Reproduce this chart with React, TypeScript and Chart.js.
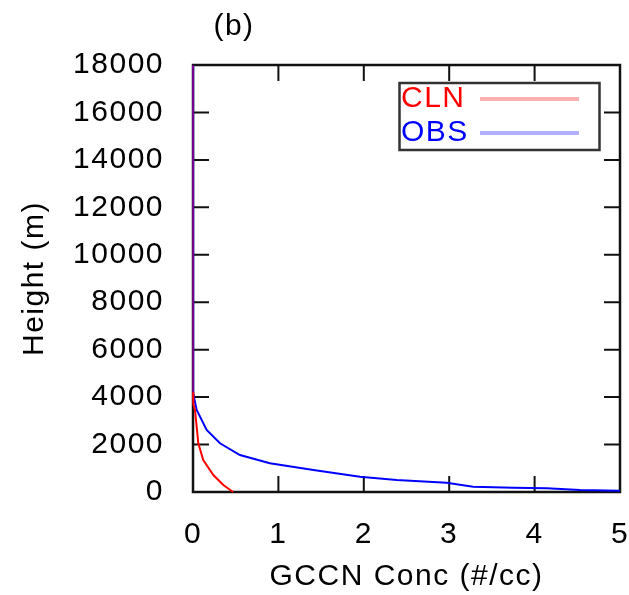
import React, { useEffect, useRef } from "react";
import { Chart, registerables } from "chart.js";

Chart.register(...registerables);

const seriesLabels = ["CLN", "OBS"];
const clnConc = [0, 0, 0.004, 0.023, 0.043, 0.062, 0.12, 0.238, 0.355, 0.47];
const clnHeight = [18000, 4200, 3700, 3457, 2755, 2050, 1350, 717, 295, 0];
const obsConc = [0, 0, 0.004, 0.043, 0.16, 0.316, 0.55, 0.9, 1.41, 1.955, 2.385, 2.97, 3.28, 3.75, 4.14, 4.53, 5.0];
const obsHeight = [18000, 4720, 4160, 3457, 2614, 2053, 1560, 1210, 927, 645, 506, 392, 223, 181, 156, 84, 55];
const xTicks = [0, 1, 2, 3, 4, 5];
const yTicks = [0, 2000, 4000, 6000, 8000, 10000, 12000, 14000, 16000, 18000];
const panelLabel = "(b)";
const xTitle = "GCCN Conc (#/cc)";
const yTitle = "Height (m)";

const FONT = "'Liberation Sans', Arial, Helvetica, sans-serif";
const seriesColors = ["#ff0000", "#0000ff"];
const legendLineColors = ["#ffb0b0", "#b0b0ff"];

const spacingPlugin = {
  id: "spacing",
  beforeDraw(chart: any) {
    (chart.ctx as any).letterSpacing = "1.5px";
  },
  afterDraw(chart: any) {
    (chart.ctx as any).letterSpacing = "0px";
  },
};

const framePlugin = {
  id: "frame",
  beforeDatasetsDraw(chart: any) {
    const { ctx, chartArea } = chart;
    const { left, right, top, bottom } = chartArea;
    const xs = chart.scales.x;
    const ys = chart.scales.y;
    const tl = 16;
    ctx.save();
    ctx.strokeStyle = "#111";
    ctx.lineWidth = 2;
    ctx.beginPath();
    for (const v of xTicks) {
      const px = xs.getPixelForValue(v);
      ctx.moveTo(px, bottom);
      ctx.lineTo(px, bottom - tl);
      ctx.moveTo(px, top);
      ctx.lineTo(px, top + tl);
    }
    for (const v of yTicks) {
      const py = ys.getPixelForValue(v);
      ctx.moveTo(left, py);
      ctx.lineTo(left + tl, py);
      ctx.moveTo(right, py);
      ctx.lineTo(right - tl, py);
    }
    ctx.stroke();
    ctx.lineWidth = 2.5;
    ctx.strokeRect(left, top, right - left, bottom - top);
    ctx.restore();
  },
  afterDraw(chart: any) {
    const { ctx } = chart;
    ctx.save();
    (ctx as any).letterSpacing = "1.5px";
    ctx.font = `30px ${FONT}`;
    ctx.fillStyle = "#000";
    ctx.textAlign = "center";
    ctx.textBaseline = "middle";
    ctx.fillText(panelLabel, 234, 27);

    // legend
    ctx.lineWidth = 2.5;
    ctx.strokeStyle = "#333";
    ctx.strokeRect(399.5, 83, 200, 67);
    const rows = [98, 132];
    chart.data.datasets.forEach((ds: any, i: number) => {
      ctx.fillStyle = ds.borderColor;
      ctx.textAlign = "left";
      ctx.fillText(ds.label, 401, rows[i] + 1);
      ctx.strokeStyle = legendLineColors[i];
      ctx.lineWidth = 4;
      ctx.beginPath();
      ctx.moveTo(480, rows[i] + 1);
      ctx.lineTo(579, rows[i] + 1);
      ctx.stroke();
    });
    ctx.restore();
  },
};

export default function App() {
  const ref = useRef<HTMLCanvasElement | null>(null);
  useEffect(() => {
    if (!ref.current) return;
    const chart = new Chart(ref.current, {
      type: "scatter",
      data: {
        datasets: [
          {
            label: seriesLabels[0],
            data: clnConc.map((x, i) => ({ x, y: clnHeight[i] })),
            showLine: true,
            borderColor: seriesColors[0],
            backgroundColor: seriesColors[0],
            borderWidth: 2,
            pointRadius: 0,
            clip: false,
            segment: {
              borderColor: (c: any) =>
                c.p0.parsed.x === 0 && c.p1.parsed.x === 0 ? "rgba(255,0,0,0.45)" : undefined,
            },
          },
          {
            label: seriesLabels[1],
            data: obsConc.map((x, i) => ({ x, y: obsHeight[i] })),
            showLine: true,
            borderColor: seriesColors[1],
            backgroundColor: seriesColors[1],
            borderWidth: 2,
            pointRadius: 0,
            clip: false,
          },
        ],
      } as any,
      options: {
        animation: false,
        responsive: false,
        devicePixelRatio: 1,
        layout: { padding: { left: 0, top: 65, right: 9, bottom: 0 } },
        plugins: {
          legend: { display: false },
          tooltip: { enabled: false },
          title: { display: false },
        },
        scales: {
          x: {
            type: "linear",
            min: 0,
            max: 5,
            afterFit: (s: any) => {
              s.height = 103;
              s.paddingLeft = 0;
              s.paddingRight = 0;
            },
            afterBuildTicks: (s: any) => {
              s.ticks = xTicks.map((v) => ({ value: v }));
            },
            ticks: {
              color: "#000",
              font: { family: FONT, size: 30 },
              padding: 17,
              autoSkip: false,
              maxRotation: 0,
              callback: (v: any) => String(v),
            },
            grid: { display: false },
            border: { display: false },
            title: {
              display: true,
              text: xTitle,
              color: "#000",
              font: { family: FONT, size: 30 },
              padding: 0,
            },
          },
          y: {
            type: "linear",
            min: 0,
            max: 18000,
            afterFit: (s: any) => {
              s.width = 193;
              s.paddingTop = 0;
              s.paddingBottom = 0;
            },
            afterBuildTicks: (s: any) => {
              s.ticks = yTicks.map((v) => ({ value: v }));
            },
            ticks: {
              color: "#000",
              font: { family: FONT, size: 30 },
              padding: 21,
              autoSkip: false,
              callback: (v: any) => String(v),
            },
            grid: { display: false },
            border: { display: false },
            title: {
              display: true,
              text: yTitle,
              color: "#000",
              font: { family: FONT, size: 30 },
              padding: { top: 17, bottom: 0 },
            },
          },
        },
      } as any,
      plugins: [spacingPlugin, framePlugin],
    });
    return () => chart.destroy();
  }, []);
  return (
    <div style={{ position: "fixed", left: 0, top: 0, width: 629, height: 595, background: "#fff" }}>
      <canvas ref={ref} width={629} height={595} style={{ display: "block" }} />
    </div>
  );
}
